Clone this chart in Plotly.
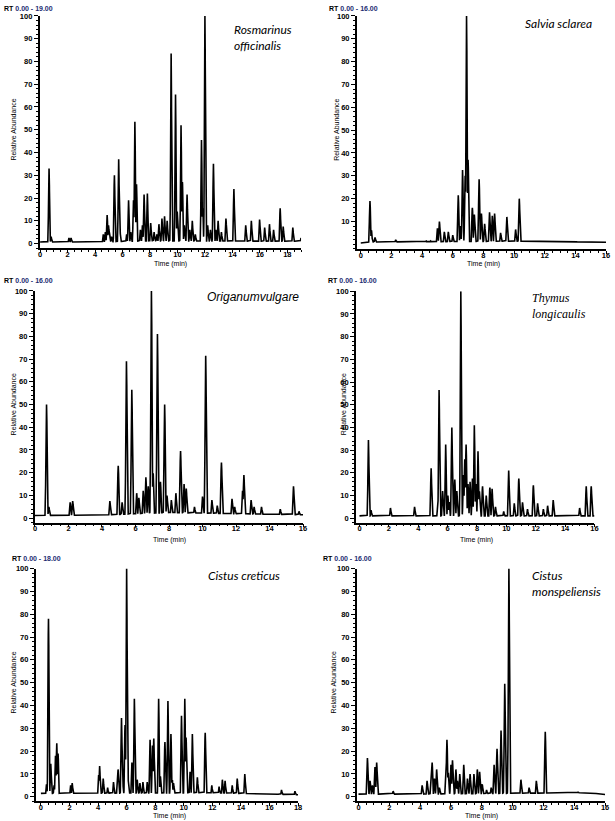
import numpy as np
import plotly.graph_objects as go

W, H = 615, 821

# ---------------- data ----------------
# Rosmarinus officinalis
ros_t = [0.65, 0.8, 2.1, 2.25, 4.6, 4.75, 4.88, 4.98, 5.05, 5.2, 5.41, 5.72, 5.8, 6.3, 6.44, 6.6, 6.8, 6.9, 7.02,
         7.3, 7.45, 7.57, 7.81, 8.05, 8.3, 8.5, 8.65, 8.87, 9.06, 9.25, 9.54, 9.86, 9.98, 10.26, 10.36, 10.5,
         10.7, 10.9, 11.08, 11.3, 11.75, 11.84, 12.0, 12.2, 12.4, 12.62, 12.8, 12.96, 13.2, 13.53, 14.11,
         14.97, 15.38, 15.98, 16.35, 16.7, 17.0, 17.48, 17.7, 18.4, 19.0]
ros_h = [33, 3, 2.5, 2.5, 4, 5, 12.5, 8, 5, 3, 30, 37, 8, 4, 19, 5, 19, 53.5, 26,
         6, 8, 21.5, 22, 9, 5, 4, 8.5, 11, 12, 10, 83.5, 65.5, 14, 52, 27, 8,
         21.5, 6, 10, 4, 45.5, 17, 100, 8, 6, 35, 6, 10, 5, 11, 24,
         8, 10, 10.5, 7, 8.5, 6, 15.5, 7.5, 7, 2.5]
ros_base_t = [0, 4.4, 8, 19]
ros_base_v = [0.7, 0.7, 1.2, 1.0]

# Salvia sclarea
sal_t = [0.6, 0.7, 0.93, 1.25, 2.28, 4.27, 4.55, 5.0, 5.13, 5.45, 5.71, 6.0, 6.36, 6.5, 6.64, 6.81, 6.9, 7.0,
         7.28, 7.41, 7.72, 7.87, 8.08, 8.4, 8.58, 8.73, 9.12, 9.53, 10.1, 10.34]
sal_h = [19, 6, 3, 1.2, 2, 1.5, 1.5, 7, 10, 5.5, 5.5, 4, 21.5, 8, 32.5, 30, 100, 37,
         16, 13, 28.5, 13.5, 9, 14, 12.5, 13.5, 5, 12, 6.5, 20]
sal_base_t = [0, 0.5, 10.5, 16]
sal_base_v = [0.6, 1.0, 1.4, 0.9]

# Origanum vulgare
ori_t = [0.69, 0.83, 2.1, 2.25, 4.47, 4.97, 5.2, 5.46, 5.78, 6.07, 6.2, 6.46, 6.62, 6.76, 6.95, 7.05, 7.31,
         7.49, 7.74, 7.88, 8.14, 8.41, 8.69, 8.9, 9.03, 9.52, 10.0, 10.19, 10.56, 10.88, 11.13, 11.76, 11.92,
         12.39, 12.47, 12.9, 13.08, 13.52, 14.64, 15.43, 15.76]
ori_h = [50, 5, 7, 7.5, 7.5, 23, 7, 69, 56.5, 11, 9, 12, 18, 14, 100, 20, 81,
         16, 50, 10, 8, 11, 29.5, 15, 13, 5, 9.5, 71.5, 8, 5.5, 24.5, 8.5, 5,
         12, 19, 8, 5, 5, 4, 14, 3]
ori_base_t = [0, 4, 8, 16]
ori_base_v = [1.2, 1.4, 2.5, 1.5]

# Thymus longicaulis
thy_t = [0.61, 0.79, 2.11, 3.75, 4.88, 5.33, 5.42, 5.66, 5.87, 6.02, 6.11, 6.29, 6.49, 6.63, 6.9, 7.08, 7.17,
         7.26, 7.39, 7.53, 7.69, 7.82, 7.93, 8.07, 8.16, 8.38, 8.63, 8.88, 9.03, 9.26, 9.82, 10.16, 10.54,
         10.85, 11.1, 11.44, 11.84, 12.13, 12.52, 12.81, 13.19, 14.99, 15.44, 15.78]
thy_h = [34.5, 3.5, 4.5, 5, 22, 6, 56.5, 12, 32.5, 10, 7, 40, 17, 12, 100, 19, 26,
         32.5, 15, 16, 17.5, 41, 15, 29.5, 12, 14, 10, 13.5, 13, 5, 3, 21, 6.5,
         17.5, 7, 4, 14.5, 6.5, 4, 5.5, 8, 4.5, 14, 14]
thy_base_t = [0, 16]
thy_base_v = [1.0, 1.0]

# Cistus creticus
cre_t = [0.39, 0.53, 0.69, 0.92, 1.02, 1.11, 1.2, 2.08, 2.19, 4.04, 4.11, 4.36, 4.67, 5.08, 5.36, 5.4, 5.64,
         5.7, 5.89, 6.0, 6.1, 6.37, 6.54, 6.74, 6.93, 7.14, 7.44, 7.64, 7.81, 7.9, 8.24, 8.36, 8.68, 8.89,
         9.1, 9.19, 9.28, 9.84, 10.07, 10.16, 10.44, 10.6, 10.95, 11.5, 11.96, 12.47, 12.7, 12.89, 13.39,
         13.74, 14.27, 16.84, 17.78]
cre_h = [5.5, 78, 14.5, 5, 18, 23.5, 19, 5, 6, 9.5, 13.5, 8, 4, 6.5, 9.5, 12, 34.5,
         15.5, 31.5, 100, 8, 15, 43, 7.5, 6, 6.5, 6.5, 25, 22.5, 25.5, 43, 9, 24, 42,
         27.5, 8, 6, 35.5, 43, 26, 11, 27.5, 8.5, 28, 5, 4.5, 7.5, 7, 5,
         8, 10, 3, 2.5]
cre_base_t = [0, 12, 18]
cre_base_v = [1.5, 1.8, 0.9]

# Cistus monspeliensis
mon_t = [0.58, 0.75, 0.9, 1.07, 1.18, 2.25, 4.13, 4.45, 4.71, 4.78, 4.93, 5.07, 5.25, 5.67, 5.74, 5.82, 6.0,
         6.1, 6.32, 6.42, 6.57, 6.83, 7.07, 7.24, 7.49, 7.71, 7.86, 8.03, 8.31, 8.61, 8.8, 8.99, 9.25,
         9.49, 9.76, 10.54, 11.07, 11.54, 12.12, 14.24]
mon_h = [17, 7, 5, 13, 15, 2.5, 5, 7, 8, 15, 8, 12, 4, 10, 25, 11, 14,
         16, 12, 7, 10, 14, 8, 10, 10, 12, 11, 5.5, 3, 4, 14, 21, 29,
         49.5, 100, 7.5, 4, 7, 28.5, 2]
mon_base_t = [0, 3.5, 15, 16]
mon_base_v = [1.2, 1.2, 1.8, 1.0]

panels = [
    dict(name="Rosmarinus<br>officinalis", t=ros_t, h=ros_h, bt=ros_base_t, bv=ros_base_v, xmax=19, rt="0.00 - 19.00"),
    dict(name="Salvia sclarea", t=sal_t, h=sal_h, bt=sal_base_t, bv=sal_base_v, xmax=16, rt="0.00 - 16.00"),
    dict(name="Origanumvulgare", t=ori_t, h=ori_h, bt=ori_base_t, bv=ori_base_v, xmax=16, rt="0.00 - 16.00"),
    dict(name="Thymus<br>longicaulis", t=thy_t, h=thy_h, bt=thy_base_t, bv=thy_base_v, xmax=16, rt="0.00 - 16.00"),
    dict(name="Cistus creticus", t=cre_t, h=cre_h, bt=cre_base_t, bv=cre_base_v, xmax=18, rt="0.00 - 18.00"),
    dict(name="Cistus<br>monspeliensis", t=mon_t, h=mon_h, bt=mon_base_t, bv=mon_base_v, xmax=16, rt="0.00 - 16.00"),
]

# ---------------- layout geometry (pixels) ----------------
# x pixel of y-axis line, x pixel of x=0, x pixel of x=xmax, y pixel of 100, y pixel of 0
geom = [
    (38.0, 38.5, 302.0, 12.0, 240.7),
    (358.3, 362.3, 610.0, 12.0, 241.5),
    (33.0, 33.3, 304.0, 288.3, 516.7),
    (357.3, 361.0, 598.3, 288.7, 516.7),
    (34.0, 39.3, 299.0, 567.3, 796.7),
    (358.3, 360.0, 609.0, 567.3, 796.7),
]

name_pos = [
    (232, 16, "left", "Lato", 12),
    (598, 10, "right", "Lato", 12),
    (302, 285, "right", "Liberation Sans", 12),
    (533, 286, "left", "Liberation Serif", 12),
    (283, 565, "right", "Lato", 12),
    (533, 565, "left", "Lato", 12),
]
rt_pos = [(0, -1.5), (328, -1.5), (0, 272), (327, 272), (8, 552), (322, 552)]
ytitle_x = [12, 337, 12, 345, 12, 335]
xtitle_y = [261, 539, 816]

fig = go.Figure()
annotations = []

def px(x):
    return x / W

def py(y):
    return 1 - y / H

for i, p in enumerate(panels):
    ax_x, x0, x1, y100, y0 = geom[i]
    xmax = p["xmax"]
    per_min = (x1 - x0) / xmax
    xlo = -(x0 - ax_x) / per_min
    per_unit = (y0 - y100) / 100
    ylo = -2.0
    dom_x = [px(ax_x), px(x1)]
    dom_y = [py(y0 + 2.0 * per_unit), py(y100)]

    xs = np.arange(0, xmax + 0.0025, 0.005)
    base = np.interp(xs, p["bt"], p["bv"])
    ys = base.copy()
    for t, hh in zip(p["t"], p["h"]):
        ys = np.maximum(ys, hh * np.exp(-0.5 * ((xs - t) / 0.035) ** 2))

    k = "" if i == 0 else str(i + 1)
    fig.add_trace(go.Scatter(x=xs, y=ys, mode="lines", line=dict(color="black", width=1.6),
                             xaxis="x" + k, yaxis="y" + k, hoverinfo="skip"))

    tickfont = dict(family="Liberation Sans", size=7.5, color="black", weight="bold")
    fig.layout["xaxis" + k] = dict(
        domain=dom_x, range=[xlo, xmax], anchor="y" + k,
        showgrid=False, zeroline=False, showline=True, linecolor="black", linewidth=1.5,
        ticks="outside", ticklen=3, tickwidth=1.2, tickcolor="black", ticklabelstandoff=-5,
        tickmode="array", tickvals=list(range(0, xmax + 1, 2)),
        minor=dict(ticks="outside", ticklen=2, tickwidth=1, tickcolor="black", dtick=0.5, tick0=0),
        tickfont=tickfont, fixedrange=True)
    yt = list(range(10, 101, 10)) if i == 1 else list(range(0, 101, 10))
    fig.layout["yaxis" + k] = dict(
        domain=dom_y, range=[ylo, 100], anchor="x" + k,
        showgrid=False, zeroline=False, showline=True, linecolor="black", linewidth=1.5,
        ticks="outside", ticklen=4, tickwidth=1.2, tickcolor="black",
        tickmode="array", tickvals=yt,
        minor=dict(ticks="outside", ticklen=2, tickwidth=1, tickcolor="black", dtick=2, tick0=0),
        tickfont=tickfont, fixedrange=True)

    nx, ny, nal, nfam, nsz = name_pos[i]
    annotations.append(dict(text=p["name"], x=px(nx), y=py(ny), xref="paper", yref="paper",
                            xanchor=nal, yanchor="top", align=nal, showarrow=False,
                            font=dict(family=nfam, size=nsz, color="black", style="italic")))
    rx, ry = rt_pos[i]
    annotations.append(dict(text="<b>RT</b> <span style='color:#1c2c72'><b>" + p["rt"] + "</b></span>",
                            x=px(rx), y=py(ry), xref="paper", yref="paper", xanchor="left", yanchor="top",
                            showarrow=False, font=dict(family="Liberation Sans", size=7, color="black")))
    annotations.append(dict(text="Relative Abundance", x=px(ytitle_x[i]), y=py((y100 + y0) / 2),
                            xref="paper", yref="paper", xanchor="center", yanchor="middle", textangle=-90,
                            showarrow=False, font=dict(family="Liberation Sans", size=7, color="black")))
    annotations.append(dict(text="Time (min)", x=px((x0 + x1) / 2), y=py(xtitle_y[i // 2]),
                            xref="paper", yref="paper", xanchor="center", yanchor="middle",
                            showarrow=False, font=dict(family="Liberation Sans", size=7, color="black")))

fig.update_layout(width=W, height=H, margin=dict(l=0, r=0, t=0, b=0), showlegend=False,
                  paper_bgcolor="white", plot_bgcolor="white", annotations=annotations)
fig.write_html("out.html", config={"displayModeBar": False},
               post_script="document.body.style.margin='0px';document.body.style.overflow='hidden';")
